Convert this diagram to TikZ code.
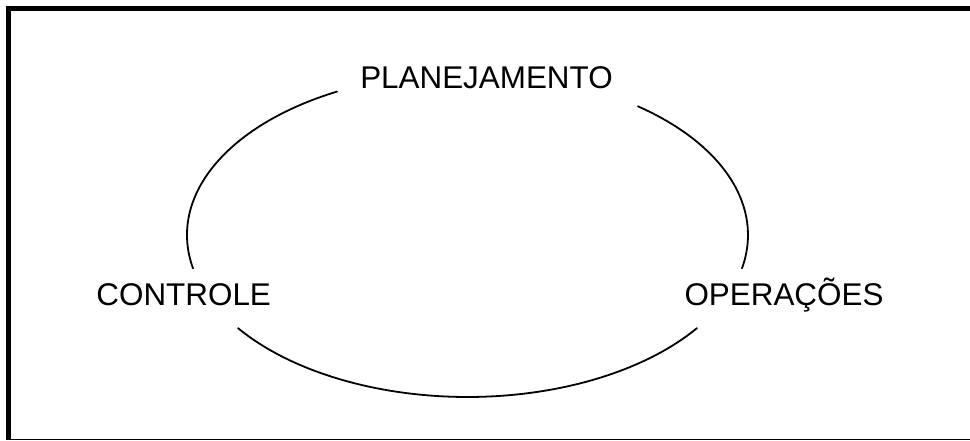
\documentclass[tikz,border=0pt]{standalone}
\usepackage{fontspec}
\setmainfont{Liberation Sans}
\begin{document}
\begin{tikzpicture}[x=1pt,y=1pt,
  label text/.style={inner sep=0pt, anchor=base, font=\fontsize{31.4}{36}\selectfont},
  cycle line/.style={line width=1.8pt, line cap=round},
  frame thick/.style={line width=5pt},
  frame thin/.style={line width=1.2pt}]
  \useasboundingbox (0,0) rectangle (970,441);
  % frame: heavy top and left edges, light bottom edge
  \draw[frame thick] (970,432.5) -- (8.5,432.5) -- (8.5,1);
  \draw[frame thin] (6,1.6) -- (970,1.6);
  % the three stages
  \node[label text] (plan) at (486.5,352.7) {PLANEJAMENTO};
  \node[label text] (ctrl) at (183.7,135.3) {CONTROLE};
  \node[label text] (oper) at (784,135.3) {OPERAÇÕES};
  % cycle ellipse, broken where the labels sit
  \coordinate (c) at (467.5,206);
  \draw[cycle line] (c) ++(-11.9:280.5 and 162)
    arc[start angle=-11.9, end angle=52.6, x radius=280.5, y radius=162];
  \draw[cycle line] (c) ++(117.7:280.5 and 162)
    arc[start angle=117.7, end angle=191.9, x radius=280.5, y radius=162];
  \draw[cycle line] (c) ++(215.1:280.5 and 162)
    arc[start angle=215.1, end angle=324.9, x radius=280.5, y radius=162];
\end{tikzpicture}
\end{document}
